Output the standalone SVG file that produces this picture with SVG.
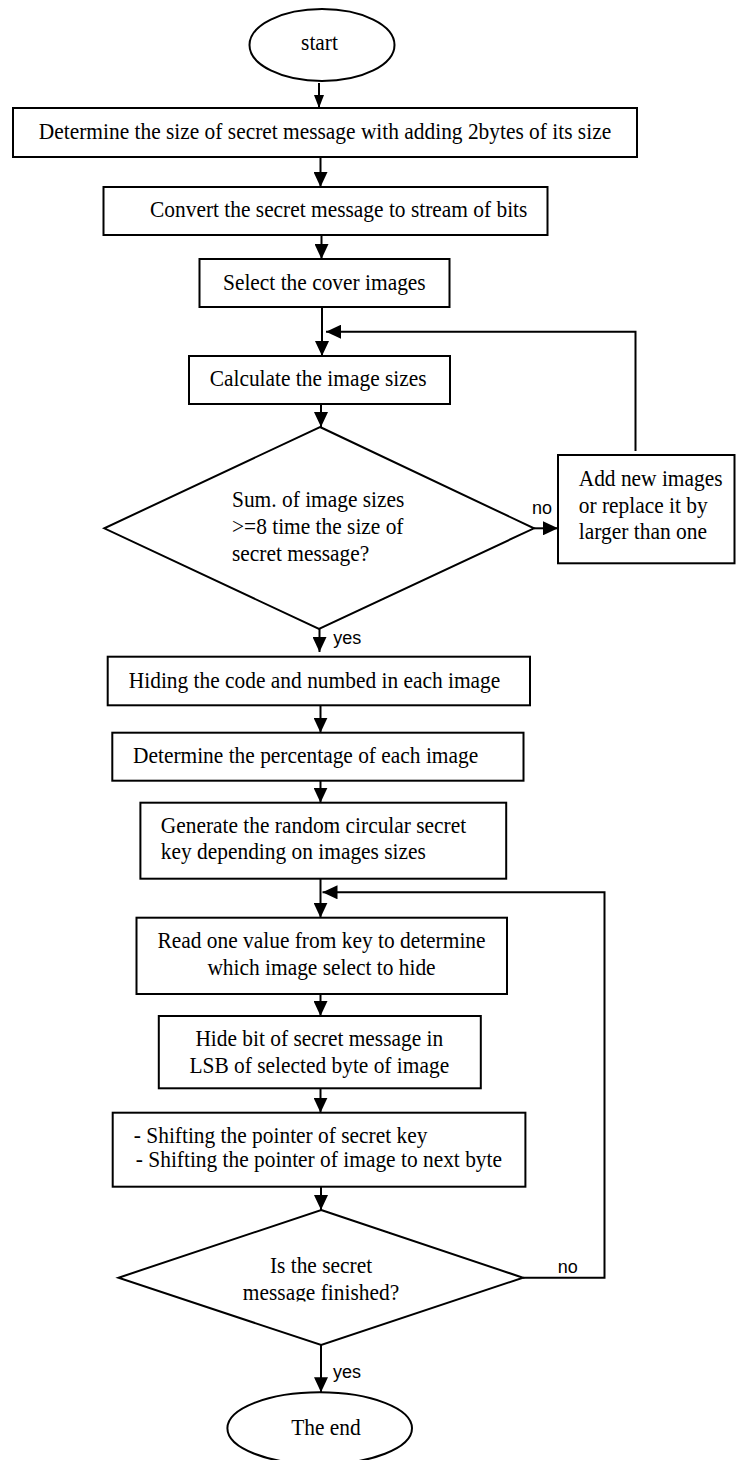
<svg xmlns="http://www.w3.org/2000/svg" width="736" height="1460" viewBox="0 0 736 1460">
<style>
.shape{fill:#fff;stroke:#000;stroke-width:2}
.t{font-family:"Liberation Serif","Times New Roman",serif;font-size:22.5px;fill:#000}
.c{text-anchor:middle}
.lbl{font-family:"Liberation Sans",Arial,sans-serif;font-size:18px;fill:#000}
.ln{fill:none;stroke:#000;stroke-width:2}
</style>
<defs>
<marker id="ah" markerUnits="userSpaceOnUse" markerWidth="15" markerHeight="14" refX="15" refY="7" orient="auto">
<path d="M0,0 L15,7 L0,14 z" fill="#000"/>
</marker>
<marker id="ahs" markerUnits="userSpaceOnUse" markerWidth="13" markerHeight="10" refX="13" refY="5" orient="auto">
<path d="M0,0 L13,5 L0,10 z" fill="#000"/>
</marker>
<clipPath id="clipd2"><rect x="100" y="1240" width="440" height="61.5"/></clipPath>
</defs>
<rect width="736" height="1460" fill="#fff"/>

<g id="connectors">
<line class="ln" x1="319" y1="83" x2="319" y2="108" marker-end="url(#ahs)"/>
<line class="ln" x1="320.5" y1="157" x2="320.5" y2="187" marker-end="url(#ah)"/>
<line class="ln" x1="321.5" y1="235" x2="321.5" y2="259" marker-end="url(#ah)"/>
<line class="ln" x1="322" y1="307" x2="322" y2="356" marker-end="url(#ah)"/>
<polyline class="ln" points="635.5,451 635.5,331.7 326,331.7" marker-end="url(#ah)"/>
<line class="ln" x1="321" y1="404" x2="321" y2="427" marker-end="url(#ah)"/>
<line class="ln" x1="534" y1="528.3" x2="558" y2="528.3" marker-end="url(#ah)"/>
<line class="ln" x1="319.5" y1="629" x2="319.5" y2="652" marker-end="url(#ah)"/>
<line class="ln" x1="320.5" y1="705.3" x2="320.5" y2="732.7" marker-end="url(#ah)"/>
<line class="ln" x1="320.5" y1="780.7" x2="320.5" y2="802.7" marker-end="url(#ah)"/>
<line class="ln" x1="320.5" y1="878.7" x2="320.5" y2="917.7" marker-end="url(#ah)"/>
<polyline class="ln" points="523,1277.7 604.5,1277.7 604.5,892.3 322.5,892.3" marker-end="url(#ah)"/>
<line class="ln" x1="320.5" y1="994" x2="320.5" y2="1016" marker-end="url(#ah)"/>
<line class="ln" x1="320.5" y1="1088.3" x2="320.5" y2="1112.7" marker-end="url(#ah)"/>
<line class="ln" x1="321" y1="1186.7" x2="321" y2="1210" marker-end="url(#ah)"/>
<line class="ln" x1="321" y1="1345" x2="321" y2="1392.3" marker-end="url(#ah)"/>
<text class="lbl" x="532" y="514">no</text>
<text class="lbl" x="333.3" y="644.3">yes</text>
<text class="lbl" x="557.7" y="1272.7">no</text>
<text class="lbl" x="333" y="1378.3">yes</text>
</g>

<g id="start">
<ellipse class="shape" cx="322" cy="45" rx="72.5" ry="36"/>
<text class="t c" x="319.5" y="50" textLength="36.9" lengthAdjust="spacingAndGlyphs">start</text>
</g>

<g id="determine-size">
<rect class="shape" x="13" y="108" width="624" height="49"/>
<text class="t c" x="325" y="139" textLength="572.3" lengthAdjust="spacingAndGlyphs">Determine the size of secret message with adding 2bytes of its size</text>
</g>

<g id="convert">
<rect class="shape" x="103.5" y="187" width="444" height="48"/>
<text class="t" x="150" y="217" textLength="377.4" lengthAdjust="spacingAndGlyphs">Convert the secret message to stream of bits</text>
</g>

<g id="select-cover">
<rect class="shape" x="199.5" y="259" width="250" height="48"/>
<text class="t" x="223" y="290" textLength="202.7" lengthAdjust="spacingAndGlyphs">Select the cover images</text>
</g>

<g id="calculate">
<rect class="shape" x="189" y="356" width="261" height="48"/>
<text class="t" x="209.7" y="386" textLength="216.9" lengthAdjust="spacingAndGlyphs">Calculate the image sizes</text>
</g>

<g id="decision-size">
<polygon class="shape" points="320,427 534,528.3 319,629 104.3,528.3"/>
<text class="t" x="232" y="507.3" textLength="172.4" lengthAdjust="spacingAndGlyphs">Sum. of image sizes</text>
<text class="t" x="232" y="534" textLength="171.5" lengthAdjust="spacingAndGlyphs">&gt;=8 time the size of</text>
<text class="t" x="232" y="560.7" textLength="137.3" lengthAdjust="spacingAndGlyphs">secret message?</text>
</g>

<g id="add-images">
<rect class="shape" x="558" y="455" width="176.5" height="108.3"/>
<text class="t" x="578.7" y="486" textLength="143.8" lengthAdjust="spacingAndGlyphs">Add new images</text>
<text class="t" x="578.7" y="512.7" textLength="129" lengthAdjust="spacingAndGlyphs">or replace it by</text>
<text class="t" x="578.7" y="539.3" textLength="128.4" lengthAdjust="spacingAndGlyphs">larger than one</text>
</g>

<g id="hiding">
<rect class="shape" x="107.7" y="656.7" width="422.3" height="48.6"/>
<text class="t" x="128.8" y="687.7" textLength="371.5" lengthAdjust="spacingAndGlyphs">Hiding the code and numbed in each image</text>
</g>

<g id="percentage">
<rect class="shape" x="112.3" y="732.7" width="411.2" height="48"/>
<text class="t" x="133" y="762.7" textLength="345.2" lengthAdjust="spacingAndGlyphs">Determine the percentage of each image</text>
</g>

<g id="generate-key">
<rect class="shape" x="140.4" y="802.7" width="365.8" height="76"/>
<text class="t" x="160.8" y="832.7" textLength="305.4" lengthAdjust="spacingAndGlyphs">Generate the random circular secret</text>
<text class="t" x="160.8" y="859.3" textLength="265.1" lengthAdjust="spacingAndGlyphs">key depending on images sizes</text>
</g>

<g id="read-value">
<rect class="shape" x="136.5" y="917.7" width="370.5" height="76.3"/>
<text class="t c" x="321.5" y="948.3" textLength="328.1" lengthAdjust="spacingAndGlyphs">Read one value from key to determine</text>
<text class="t c" x="321.5" y="975" textLength="228.2" lengthAdjust="spacingAndGlyphs">which image select to hide</text>
</g>

<g id="hide-bit">
<rect class="shape" x="158.8" y="1016" width="322" height="72.3"/>
<text class="t c" x="319.3" y="1046" textLength="247.8" lengthAdjust="spacingAndGlyphs">Hide bit of secret message in</text>
<text class="t c" x="319.3" y="1072.7" textLength="259.7" lengthAdjust="spacingAndGlyphs">LSB of selected byte of image</text>
</g>

<g id="shifting">
<rect class="shape" x="112.7" y="1112.7" width="412.7" height="74"/>
<text class="t" x="133.8" y="1142.7" textLength="293.6" lengthAdjust="spacingAndGlyphs">- Shifting the pointer of secret key</text>
<text class="t" x="135.8" y="1166.7" textLength="366.2" lengthAdjust="spacingAndGlyphs">- Shifting the pointer of image to next byte</text>
</g>

<g id="decision-finished">
<polygon class="shape" points="321.2,1210 523,1277.7 321.2,1345 118.5,1277.7"/>
<text class="t c" x="321" y="1273.3" textLength="102.2" lengthAdjust="spacingAndGlyphs">Is the secret</text>
<text class="t c" x="321" y="1300" textLength="156.3" lengthAdjust="spacingAndGlyphs" clip-path="url(#clipd2)">message finished?</text>
</g>

<g id="end">
<ellipse class="shape" cx="319.7" cy="1428.3" rx="92.3" ry="36"/>
<text class="t c" x="326" y="1435" textLength="69.5" lengthAdjust="spacingAndGlyphs">The end</text>
</g>
</svg>
